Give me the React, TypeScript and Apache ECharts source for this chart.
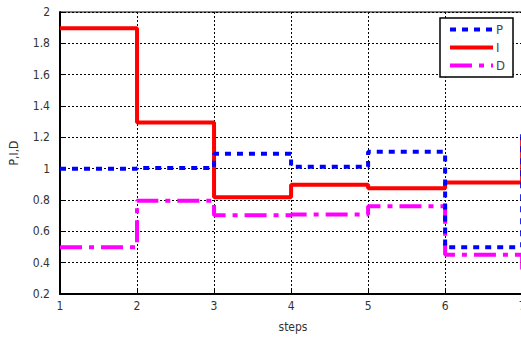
import React, { useEffect, useRef } from "react";
import * as echarts from "echarts";

const steps = [1, 2, 3, 4, 5, 6, 7];
const pValues = [1.0, 1.005, 1.096, 1.012, 1.108, 0.498, 1.22];
const iValues = [1.897, 1.295, 0.817, 0.897, 0.875, 0.911, 1.2];
const dValues = [0.498, 0.796, 0.702, 0.708, 0.76, 0.45, 0.33];
const seriesNames = ["P", "I", "D"];
const xAxisName = "steps";
const yAxisName = "P,I,D";

const pair = (vals: number[]) => steps.map((s, i) => [s, vals[i]]);

const FONT = "'Liberation Sans Narrow', 'DejaVu Sans Condensed', 'Liberation Sans', sans-serif";

export default function App() {
  const ref = useRef<HTMLDivElement>(null);
  useEffect(() => {
    if (!ref.current) return;
    const chart = echarts.init(ref.current, null, { renderer: "svg" });
    const dotted = { type: [2, 2] as any, color: "#000", width: 1 };
    chart.setOption({
      animation: false,
      backgroundColor: "#fff",
      grid: {
        left: 57,
        top: 12,
        bottom: 40,
        right: 34,
        show: true,
        borderColor: "#000",
        borderWidth: 1,
        backgroundColor: "transparent",
      },
      legend: {
        orient: "vertical",
        left: 440,
        top: 18,
        padding: [5, 8, 5, 8],
        itemGap: 5,
        itemWidth: 43,
        itemHeight: 14,
        backgroundColor: "#fff",
        borderColor: "#000",
        borderWidth: 1.5,
        borderRadius: 0,
        itemStyle: { opacity: 0 },
        lineStyle: { width: 4 },
        data: seriesNames,
        textStyle: { fontFamily: FONT, fontSize: 13, color: "#444", padding: [0, 0, 0, -2] },
      },
      xAxis: {
        type: "value",
        min: 1,
        max: 7.05,
        interval: 1,
        name: xAxisName,
        nameLocation: "middle",
        nameGap: 27,
        nameTextStyle: { fontFamily: FONT, fontSize: 12, color: "#333" },
        axisLine: { show: true, onZero: false, lineStyle: { color: "#000", width: 2 } },
        axisTick: { show: true, inside: true, length: 4, lineStyle: { color: "#000" } },
        axisLabel: { fontFamily: FONT, fontSize: 12, color: "#333", margin: 6, showMaxLabel: false },
        splitLine: { show: true, lineStyle: dotted },
      },
      yAxis: {
        type: "value",
        min: 0.2,
        max: 2,
        interval: 0.2,
        name: yAxisName,
        nameLocation: "middle",
        nameGap: 40,
        nameRotate: 90,
        nameTextStyle: { fontFamily: FONT, fontSize: 12, color: "#333" },
        axisLine: { show: true, lineStyle: { color: "#000", width: 2 } },
        axisTick: { show: true, inside: true, length: 4, lineStyle: { color: "#000" } },
        axisLabel: { fontFamily: FONT, fontSize: 12, color: "#333", margin: 10 },
        splitLine: { show: true, lineStyle: dotted },
      },
      series: [
        {
          name: seriesNames[0],
          type: "line",
          step: "end",
          symbol: "none",
          color: "#0000ff",
          lineStyle: { color: "#0000ff", width: 4, type: [6, 6], cap: "butt" },
          data: pair(pValues),
          z: 3,
        },
        {
          name: seriesNames[1],
          type: "line",
          step: "end",
          symbol: "none",
          color: "#ff0000",
          lineStyle: { color: "#ff0000", width: 4, type: "solid" },
          data: pair(iValues),
          z: 2,
        },
        {
          name: seriesNames[2],
          type: "line",
          step: "end",
          symbol: "none",
          color: "#ff00ff",
          lineStyle: { color: "#ff00ff", width: 4, type: [22, 7, 5, 7], cap: "butt" },
          data: pair(dValues),
          z: 2,
        },
      ],
    });
    return () => chart.dispose();
  }, []);
  return (
    <div
      ref={ref}
      style={{ position: "fixed", left: 0, top: 0, width: 560, height: 338, background: "#fff" }}
    />
  );
}
